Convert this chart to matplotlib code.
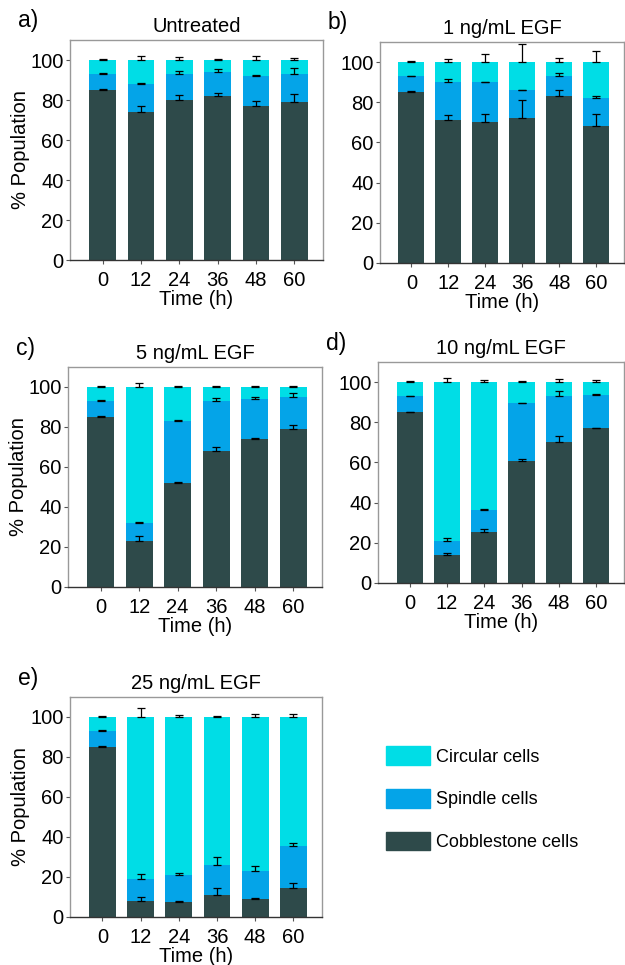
import matplotlib.pyplot as plt
import numpy as np

plt.rcParams['font.family'] = ['Liberation Sans', 'DejaVu Sans']

times = ['0', '12', '24', '36', '48', '60']
titles = ['Untreated', '1 ng/mL EGF', '5 ng/mL EGF', '10 ng/mL EGF', '25 ng/mL EGF']
letters = ['a)', 'b)', 'c)', 'd)', 'e)']
labels = ['Circular cells', 'Spindle cells', 'Cobblestone cells']

# cobblestone %, cobblestone + spindle % (cumulative), circular fills to 100
cobble = [
    [85, 74, 80, 82, 77, 79],
    [85, 71, 70, 72, 83, 68],
    [85, 23, 52, 68, 74, 79],
    [85, 14, 25.5, 60.5, 70, 77],
    [85, 8, 7.5, 11, 9, 14.5],
]
cum_spindle = [
    [93, 88, 93, 94, 92, 93],
    [93, 90, 90, 86, 93, 82],
    [93, 32, 83, 93, 94, 95],
    [93, 21, 36.5, 89.5, 93, 93.5],
    [93, 19, 21, 26, 23, 35.5],
]
# upward error bars for each segment top
err_cobble = [
    [0.5, 3, 2.5, 1.5, 2.5, 4],
    [0.5, 2.5, 4, 9, 3, 6],
    [0.3, 2.5, 0.5, 2, 0.5, 2],
    [0.3, 1, 1.5, 1, 3, 0.3],
    [0.3, 2, 0.3, 3.5, 0.7, 2.5],
]
err_spindle = [
    [0.5, 0.5, 1.5, 1.5, 0.5, 3],
    [0.3, 1.5, 0.3, 0.3, 1.5, 1],
    [0.3, 0.3, 0.5, 1.5, 1, 2],
    [0.3, 1.5, 0.5, 0.3, 2.5, 0.5],
    [0.3, 2.5, 1, 4, 2.5, 1.5],
]
err_circular = [
    [0.3, 2, 1.5, 0.3, 2, 1],
    [0.3, 1.5, 4, 9, 2, 5.5],
    [0.3, 2, 0.3, 0.3, 0.3, 0.5],
    [0.3, 2, 1, 0.5, 1.5, 1],
    [0.3, 4.5, 1, 0.3, 1.5, 1.5],
]

c_circ = '#00DDE6'
c_spin = '#04A4E8'
c_cob = '#2E4A4A'

W, H = 625, 965
fig = plt.figure(figsize=(W / 100, H / 100), dpi=100)

# axes boxes in pixels: left, top, right, bottom(zero line)
boxes = [
    (70, 40, 323, 260),
    (380, 42, 624, 263),
    (68, 367, 322, 587),
    (378, 362, 624, 583),
    (70, 697, 322, 917),
]


def make_axes(box):
    l, t, r, b = box
    return fig.add_axes([l / W, 1 - b / H, (r - l) / W, (b - t) / H])


x = np.arange(len(times))
for i, box in enumerate(boxes):
    ax = make_axes(box)
    cob = np.array(cobble[i])
    cs = np.array(cum_spindle[i])
    spin = cs - cob
    circ = 100 - cs
    ax.bar(x, cob, width=0.7, color=c_cob, zorder=2)
    ax.bar(x, spin, width=0.7, bottom=cob, color=c_spin, zorder=2)
    ax.bar(x, circ, width=0.7, bottom=cs, color=c_circ, zorder=2)
    zeros = np.zeros(len(times))
    for tops, err in [(cob, err_cobble[i]), (cs, err_spindle[i]), (cs + circ, err_circular[i])]:
        ax.errorbar(x, tops, yerr=[zeros, err], fmt='none', ecolor='black',
                    elinewidth=0.9, capsize=3, capthick=0.9, zorder=3)
    ax.set_xlim(-0.85, 5.75)
    ax.set_ylim(0, 110)
    ax.set_yticks([0, 20, 40, 60, 80, 100])
    ax.set_xticks(x)
    ax.set_xticklabels(times)
    ax.tick_params(axis='both', labelsize=14.5, length=3, width=0.8,
                   color='#555555')
    ax.tick_params(axis='y', pad=1.5)
    ax.tick_params(axis='x', pad=5)
    for s in ['top', 'right', 'left']:
        ax.spines[s].set_color('#999999')
        ax.spines[s].set_linewidth(1.0)
    ax.spines['bottom'].set_color('#333333')
    ax.spines['bottom'].set_linewidth(1.0)
    ax.set_xlabel('Time (h)', fontsize=14.5, labelpad=0)
    if i % 2 == 0:
        ax.set_ylabel('% Population', fontsize=14.5, labelpad=0)
    ax.set_title(titles[i], fontsize=14.5, pad=6)
    l, t, r, b = box
    fig.text((l - 52) / W, 1 - (t - 19) / H, letters[i], fontsize=16.5, va='center', ha='left')

# legend
colors = [c_circ, c_spin, c_cob]
handles = [plt.Rectangle((0, 0), 1, 1, color=c) for c in colors]
fig.legend(handles, labels, loc='upper left', bbox_to_anchor=(370 / W, 1 - 730 / H),
           frameon=False, fontsize=13, handlelength=2.4, handleheight=1.2,
           labelspacing=1.3, handletextpad=0.35)

fig.savefig('out.png', dpi=100)
